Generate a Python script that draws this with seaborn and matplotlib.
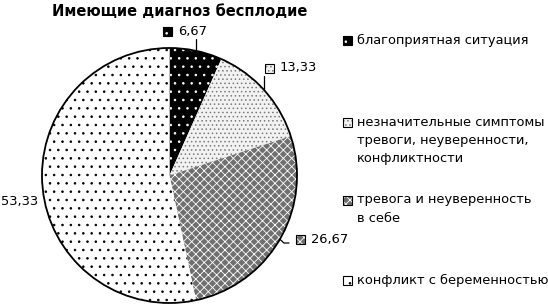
import matplotlib
matplotlib.use("Agg")
import matplotlib.pyplot as plt
from matplotlib.patches import Rectangle, Circle
import seaborn as sns
import numpy as np

sns.set_theme(style="white")
plt.rcParams['font.family'] = ['DejaVu Sans']
plt.rcParams['hatch.linewidth'] = 0.6
plt.rcParams['text.color'] = 'black'

categories = ["благоприятная ситуация",
              "незначительные симптомы\nтревоги, неуверенности,\nконфликтности",
              "тревога и неуверенность\nв себе",
              "конфликт с беременностью"]
values = [6.67, 13.33, 26.67, 53.33]
value_labels = ["6,67", "13,33", "26,67", "53,33"]
title = "Имеющие диагноз бесплодие"

faces = ["black", "#f2f2f2", "#6f6f6f", "white"]
hatch_cols = ["white", "#7a7a7a", "white", "black"]
hatches = ["..", "....", "xxxx", ".."]

W, H = 548, 306
fig = plt.figure(figsize=(W / 100, H / 100), dpi=100)
ax = fig.add_axes([0, 0, 1, 1])
ax.set_axis_off()

cx, cy, R = 169.5, H - 175.5, 127.5
wedges, _ = ax.pie(values, startangle=90, counterclock=False, radius=R, center=(cx, cy))
for w, fc, hc, h in zip(wedges, faces, hatch_cols, hatches):
    w.set_facecolor(fc)
    w.set_edgecolor(hc)
    w.set_hatch(h)
    w.set_linewidth(0)
ax.add_patch(Circle((cx, cy), R, fill=False, edgecolor="black", lw=1.3, zorder=5))
ax.set_xlim(0, W)
ax.set_ylim(0, H)
ax.set_aspect("auto")

fs = 9.4
label_pos = [(178, 31, True, "left"), (280, 68, True, "left"),
             (311, 239, True, "left"), (38, 202, False, "right")]
for w, txt, (lx, ly, mk, ha), fc, hc, h in zip(wedges, value_labels, label_pos,
                                               faces, hatch_cols, hatches):
    th = np.deg2rad((w.theta1 + w.theta2) / 2)
    x0, y0 = cx + R * np.cos(th), cy + R * np.sin(th)
    ax.text(lx, H - ly, txt, fontsize=fs, ha=ha, va="center", color="black")
    if mk:
        ax.add_patch(Rectangle((lx - 15, H - ly - 4.5), 9, 9, facecolor=fc,
                               edgecolor=hc, hatch=h, lw=0))
        ax.add_patch(Rectangle((lx - 15, H - ly - 4.5), 9, 9, fill=False,
                               edgecolor="black", lw=0.8))
        if txt == "26,67":
            ax.plot([x0, x0 + 4, lx - 22], [y0, H - 243, H - 243], color="black", lw=0.9)
        else:
            ax.plot([x0, x0], [y0, H - ly - 8], color="black", lw=0.9)

ax.text(179.5, H - 11, title, ha="center", va="center", fontsize=10.5,
        fontweight="bold", color="black")

leg_y = [40, 122, 200, 280]
for cat, y, fc, hc, h in zip(categories, leg_y, faces, hatch_cols, hatches):
    ax.add_patch(Rectangle((343, H - y - 4.5), 9, 9, facecolor=fc,
                           edgecolor=hc, hatch=h, lw=0))
    ax.add_patch(Rectangle((343, H - y - 4.5), 9, 9, fill=False, edgecolor="black", lw=0.8))
    ax.text(357, H - y + 6.5, cat, fontsize=fs, ha="left", va="top",
            linespacing=1.52, color="black")

fig.savefig("out.png", dpi=100)
